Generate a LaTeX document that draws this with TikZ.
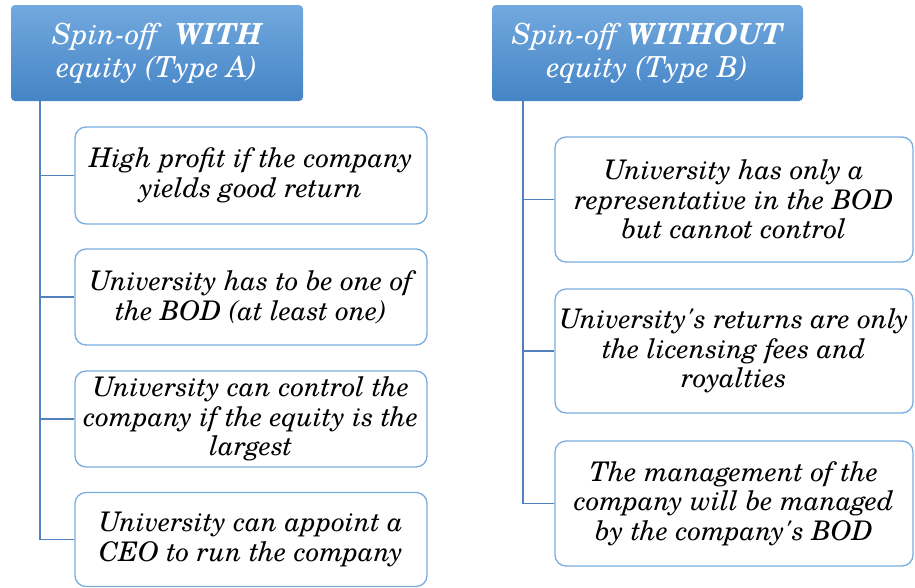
\documentclass[tikz,border=0pt]{standalone}
\usepackage{fontspec}
\setmainfont{TeX Gyre Schola}[Ligatures=TeXOff]
\definecolor{hdtop}{HTML}{72A9DE}
\definecolor{hdbot}{HTML}{4584C6}
\definecolor{boxline}{HTML}{7AADDF}
\definecolor{conn}{HTML}{5282BD}
\tikzset{
  header/.style={rectangle, rounded corners=4pt, top color=hdtop, bottom color=hdbot,
    draw=none, text=white, align=center, inner sep=0pt,
    font=\fontsize{29}{33}\selectfont\itshape},
  itembox/.style={rectangle, rounded corners=11pt, draw=boxline, line width=1.3pt,
    fill=white, align=center, inner sep=0pt,
    font=\fontsize{27}{29.5}\selectfont\itshape},
  conline/.style={draw=conn, line width=1.3pt}
}
\begin{document}
\begin{tikzpicture}[x=1pt,y=-1pt]
\useasboundingbox (0,0) rectangle (915,587);
% headers
\node[header, minimum width=292pt, minimum height=96pt] (hA) at (157,53)
  {Spin-off\ \ \textbf{WITH}\\equity (Type A)};
\node[header, minimum width=311pt, minimum height=96pt] (hB) at (647.5,53)
  {Spin-off \textbf{WITHOUT}\\equity (Type B)};
% left items
\node[itembox, minimum width=352pt, minimum height=97pt] (a1) at (251,175.5)
  {High profit if the company\\yields good return};
\node[itembox, minimum width=352pt, minimum height=96pt] (a2) at (251,297)
  {University has to be one of\\the BOD (at least one)};
\node[itembox, minimum width=352pt, minimum height=96pt] (a3) at (251,419)
  {University can control the\\company if the equity is the\\largest};
\node[itembox, minimum width=352pt, minimum height=94pt] (a4) at (251,539.5)
  {University can appoint a\\CEO to run the company};
% right items
\node[itembox, minimum width=358pt, minimum height=125pt] (b1) at (734,199.5)
  {University has only a\\representative in the BOD\\but cannot control};
\node[itembox, minimum width=358pt, minimum height=124pt] (b2) at (734,351)
  {University's returns are only\\the licensing fees and\\royalties};
\node[itembox, minimum width=358pt, minimum height=125pt] (b3) at (734,503.5)
  {The management of the\\company will be managed\\by the company's BOD};
% connectors
\coordinate (lA) at (40,0);
\coordinate (lB) at (523,0);
\draw[conline] (hA.south -| lA) |- (a4.west);
\draw[conline] (a1.west -| lA) -- (a1.west);
\draw[conline] (a2.west -| lA) -- (a2.west);
\draw[conline] (a3.west -| lA) -- (a3.west);
\draw[conline] (hB.south -| lB) |- (b3.west);
\draw[conline] (b1.west -| lB) -- (b1.west);
\draw[conline] (b2.west -| lB) -- (b2.west);
\end{tikzpicture}
\end{document}
